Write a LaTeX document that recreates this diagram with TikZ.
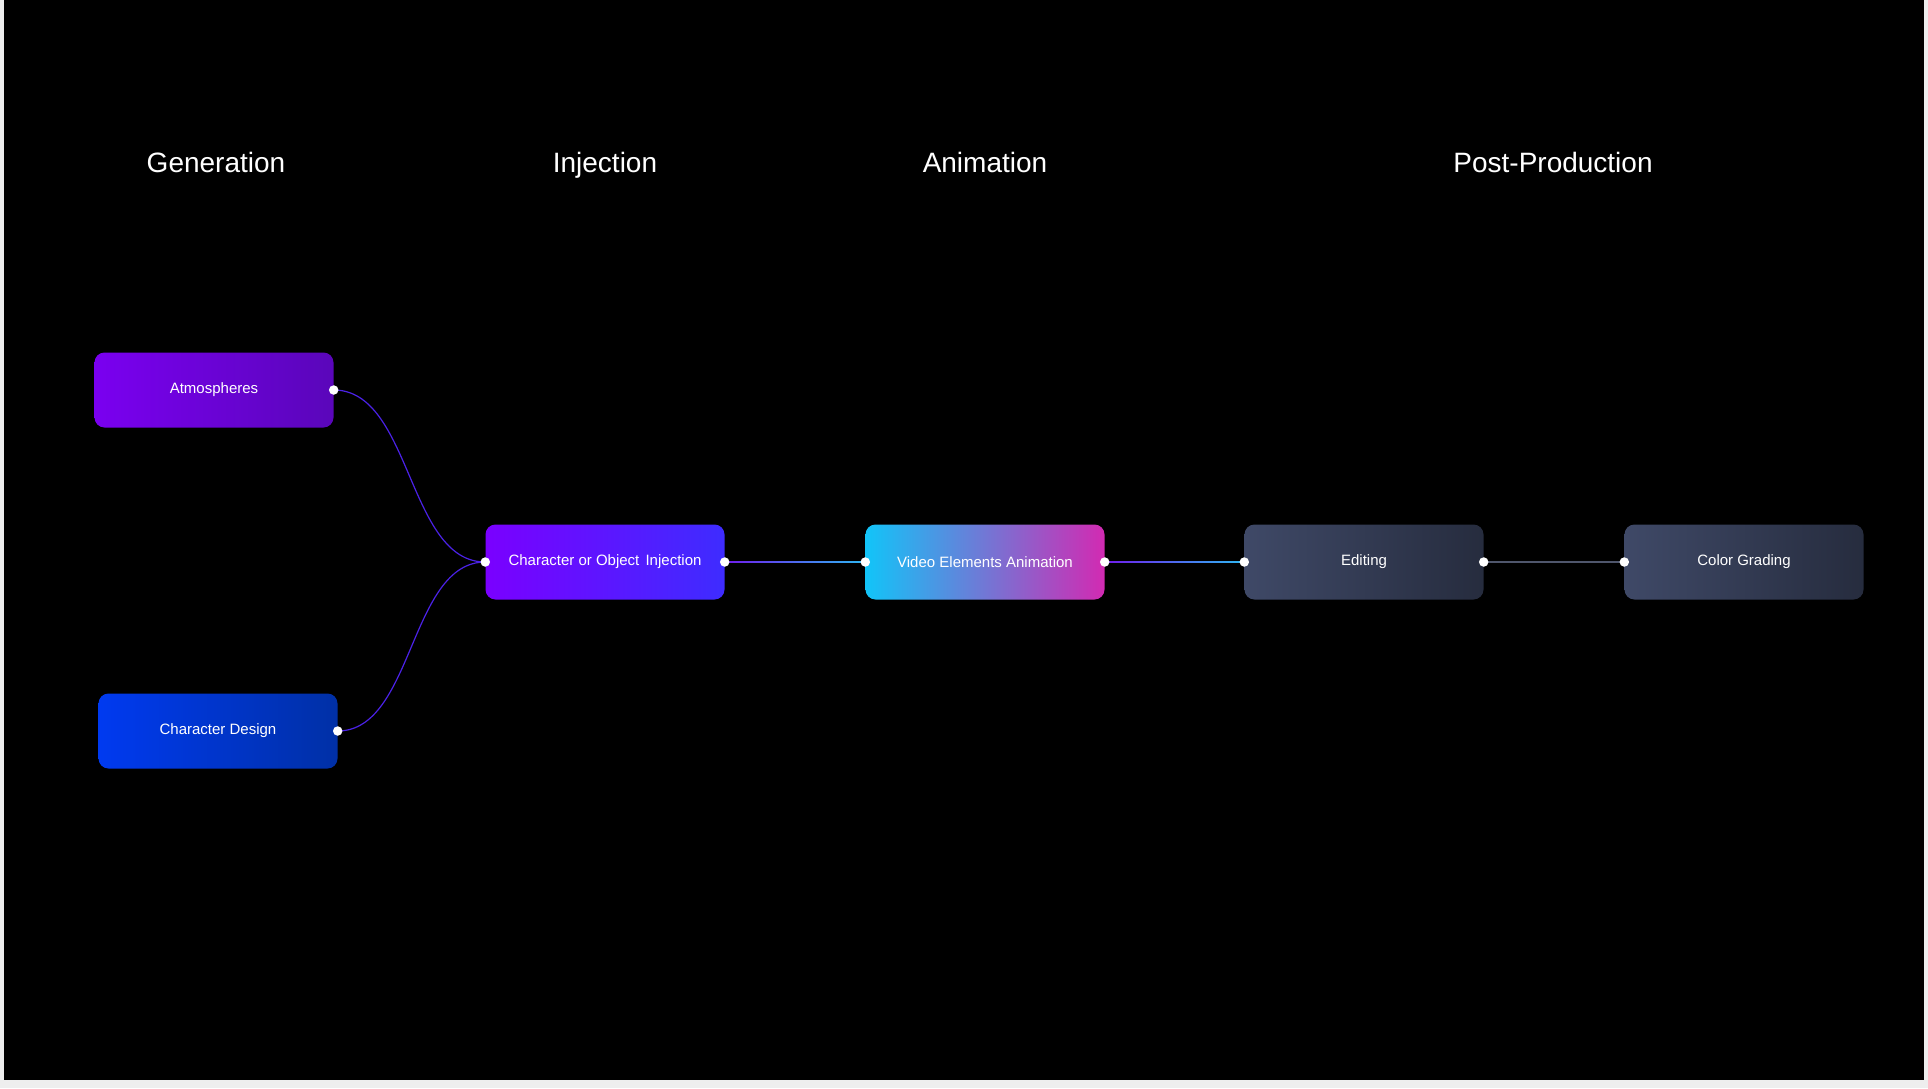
\documentclass[tikz,border=0pt]{standalone}
\usepackage{fontspec}
\setmainfont{Liberation Sans}
\usetikzlibrary{positioning, calc}
\definecolor{pagegray}{HTML}{EEEEEE}
\definecolor{atmosA}{HTML}{7A00F0}
\definecolor{atmosB}{HTML}{5A06BA}
\definecolor{designA}{HTML}{003AF0}
\definecolor{designB}{HTML}{0030A6}
\definecolor{injectA}{HTML}{7A00FF}
\definecolor{injectB}{HTML}{3E2CFF}
\definecolor{animA}{HTML}{12C4F8}
\definecolor{animM}{HTML}{8A72D2}
\definecolor{animB}{HTML}{D22AB2}
\definecolor{postA}{HTML}{3F4967}
\definecolor{postB}{HTML}{262C3E}
\definecolor{linkviolet}{HTML}{4B22E6}
\definecolor{linkcyan}{HTML}{2EB8F2}
\definecolor{linkgray}{HTML}{4F566C}

\begin{document}
\begin{tikzpicture}[x=1pt, y=-1pt,
  stagebox/.style={rounded corners=10pt, minimum width=239pt, minimum height=75pt,
    inner sep=0pt, text=white, font=\fontsize{15}{18}\selectfont},
  heading/.style={text=white, anchor=base, font=\fontsize{28}{32}\selectfont},
  port/.style={circle, fill=white, inner sep=0pt, minimum size=9.5pt},
  link/.style={line width=1.2pt}]
% page and dark canvas
\fill[pagegray] (0,0) rectangle (1928,1088);
\useasboundingbox (0,0) rectangle (1928,1088);
\fill[black] (4,0) rectangle (1924,1080);

% column headings
\node[heading] (hgen) at (216,172) {Generation};
\node[heading] (hinj) at (605,172) {Injection};
\node[heading] (hanim) at (985,172) {Animation};
\node[heading] (hpost) at (1553,172) {Post-Production};

% stages
\node[stagebox, left color=atmosA, right color=atmosB] (atmos) at (214,390) {Atmospheres};
\node[stagebox, left color=designA, right color=designB] (chardesign) at (218,731) {Character Design};
\node[stagebox, left color=injectA, right color=injectB] (inject) at (605,562) {Character or Object\hspace{2pt} Injection};
\node[stagebox, left color=animA, middle color=animM, right color=animB] (videoanim) at (985,562) {Video Elements Animation};
\node[stagebox, left color=postA, right color=postB] (editing) at (1364,562) {Editing};
\node[stagebox, left color=postA, right color=postB] (grading) at (1744,562) {Color Grading};

% connectors
\draw[link, linkviolet] (atmos.east) .. controls +(78,0) and +(-78,0) .. (inject.west);
\draw[link, linkviolet] (chardesign.east) .. controls +(76,0) and +(-76,0) .. (inject.west);
\shade[left color=linkviolet!80!magenta, right color=linkcyan] ($(inject.east)+(0,-0.6)$) rectangle ($(videoanim.west)+(0,0.6)$);
\shade[left color=linkviolet!80!magenta, right color=linkcyan] ($(videoanim.east)+(0,-0.6)$) rectangle ($(editing.west)+(0,0.6)$);
\draw[link, linkgray] (editing.east) -- (grading.west);

% ports
\node[port] (atmosout) at (atmos.east) {};
\node[port] (designout) at (chardesign.east) {};
\node[port] (injectin) at (inject.west) {};
\node[port] (injectout) at (inject.east) {};
\node[port] (animin) at (videoanim.west) {};
\node[port] (animout) at (videoanim.east) {};
\node[port] (editin) at (editing.west) {};
\node[port] (editout) at (editing.east) {};
\node[port] (gradein) at (grading.west) {};
\end{tikzpicture}
\end{document}
